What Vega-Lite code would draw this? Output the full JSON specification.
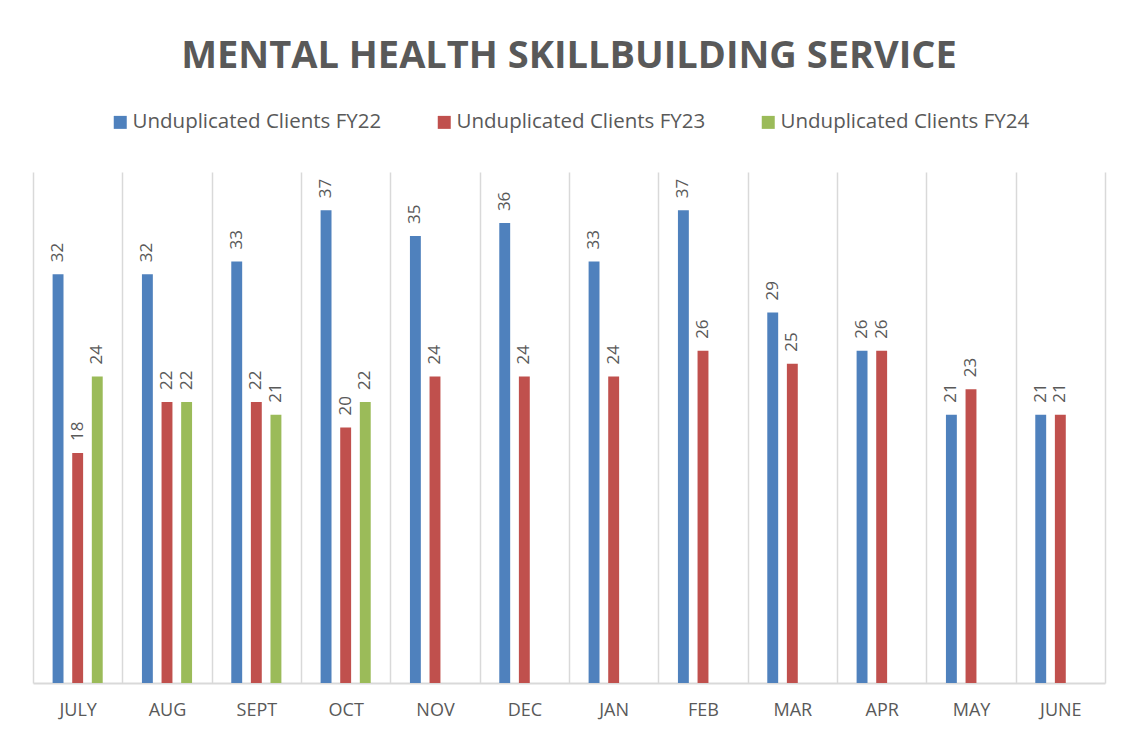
{
  "$schema": "https://vega.github.io/schema/vega-lite/v6.json",
  "width": 1072,
  "height": 511,
  "autosize": {"type": "none"},
  "padding": {"left": 33, "top": 172, "right": 18, "bottom": 50},
  "background": "white",
  "title": {
    "text": "MENTAL HEALTH SKILLBUILDING SERVICE",
    "font": "Open Sans",
    "fontSize": 38,
    "fontWeight": "bold",
    "color": "#595959",
    "anchor": "middle",
    "frame": "group",
    "offset": 36
  },
  "data": {
    "values": [
      {"month": "JULY", "series": "Unduplicated Clients FY22", "value": 32},
      {"month": "JULY", "series": "Unduplicated Clients FY23", "value": 18},
      {"month": "JULY", "series": "Unduplicated Clients FY24", "value": 24},
      {"month": "AUG", "series": "Unduplicated Clients FY22", "value": 32},
      {"month": "AUG", "series": "Unduplicated Clients FY23", "value": 22},
      {"month": "AUG", "series": "Unduplicated Clients FY24", "value": 22},
      {"month": "SEPT", "series": "Unduplicated Clients FY22", "value": 33},
      {"month": "SEPT", "series": "Unduplicated Clients FY23", "value": 22},
      {"month": "SEPT", "series": "Unduplicated Clients FY24", "value": 21},
      {"month": "OCT", "series": "Unduplicated Clients FY22", "value": 37},
      {"month": "OCT", "series": "Unduplicated Clients FY23", "value": 20},
      {"month": "OCT", "series": "Unduplicated Clients FY24", "value": 22},
      {"month": "NOV", "series": "Unduplicated Clients FY22", "value": 35},
      {"month": "NOV", "series": "Unduplicated Clients FY23", "value": 24},
      {"month": "DEC", "series": "Unduplicated Clients FY22", "value": 36},
      {"month": "DEC", "series": "Unduplicated Clients FY23", "value": 24},
      {"month": "JAN", "series": "Unduplicated Clients FY22", "value": 33},
      {"month": "JAN", "series": "Unduplicated Clients FY23", "value": 24},
      {"month": "FEB", "series": "Unduplicated Clients FY22", "value": 37},
      {"month": "FEB", "series": "Unduplicated Clients FY23", "value": 26},
      {"month": "MAR", "series": "Unduplicated Clients FY22", "value": 29},
      {"month": "MAR", "series": "Unduplicated Clients FY23", "value": 25},
      {"month": "APR", "series": "Unduplicated Clients FY22", "value": 26},
      {"month": "APR", "series": "Unduplicated Clients FY23", "value": 26},
      {"month": "MAY", "series": "Unduplicated Clients FY22", "value": 21},
      {"month": "MAY", "series": "Unduplicated Clients FY23", "value": 23},
      {"month": "JUNE", "series": "Unduplicated Clients FY22", "value": 21},
      {"month": "JUNE", "series": "Unduplicated Clients FY23", "value": 21}
    ]
  },
  "encoding": {
    "x": {
      "field": "month",
      "type": "nominal",
      "sort": ["JULY", "AUG", "SEPT", "OCT", "NOV", "DEC", "JAN", "FEB", "MAR", "APR", "MAY", "JUNE"],
      "scale": {"paddingInner": 0, "paddingOuter": 0},
      "axis": {
        "title": null,
        "labelAngle": 0,
        "labelFont": "Open Sans",
        "labelFontSize": 18,
        "labelColor": "#595959",
        "labelPadding": 18,
        "ticks": false,
        "grid": true,
        "tickBand": "extent",
        "gridColor": "#d9d9d9",
        "gridWidth": 1.5,
        "domainColor": "#d9d9d9",
        "domainWidth": 2
      }
    },
    "xOffset": {
      "field": "series",
      "type": "nominal",
      "scale": {
        "domain": ["Unduplicated Clients FY22", "Unduplicated Clients FY23", "Unduplicated Clients FY24"],
        "paddingInner": 0.444,
        "paddingOuter": 1.2
      }
    },
    "y": {
      "field": "value",
      "type": "quantitative",
      "scale": {"domain": [0, 40], "nice": false},
      "axis": null
    }
  },
  "layer": [
    {
      "mark": {"type": "bar"},
      "encoding": {
        "color": {
          "field": "series",
          "type": "nominal",
          "scale": {
            "domain": ["Unduplicated Clients FY22", "Unduplicated Clients FY23", "Unduplicated Clients FY24"],
            "range": ["#4F81BD", "#C0504D", "#9BBB59"]
          },
          "legend": {
            "title": null,
            "orient": "none",
            "direction": "horizontal",
            "legendX": 77,
            "legendY": -60,
            "symbolType": "square",
            "symbolSize": 169,
            "symbolStrokeWidth": 0,
            "symbolOpacity": 1,
            "labelFont": "Open Sans",
            "labelFontSize": 20.5,
            "labelColor": "#595959",
            "labelLimit": 0,
            "labelOffset": 2,
            "columnPadding": 52,
            "padding": 0
          }
        }
      }
    },
    {
      "mark": {
        "type": "text",
        "angle": 270,
        "align": "left",
        "baseline": "middle",
        "dx": 12,
        "font": "Open Sans",
        "fontSize": 17,
        "color": "#595959"
      },
      "encoding": {
        "text": {"field": "value", "type": "quantitative"}
      }
    }
  ],
  "config": {
    "view": {"stroke": null}
  }
}
